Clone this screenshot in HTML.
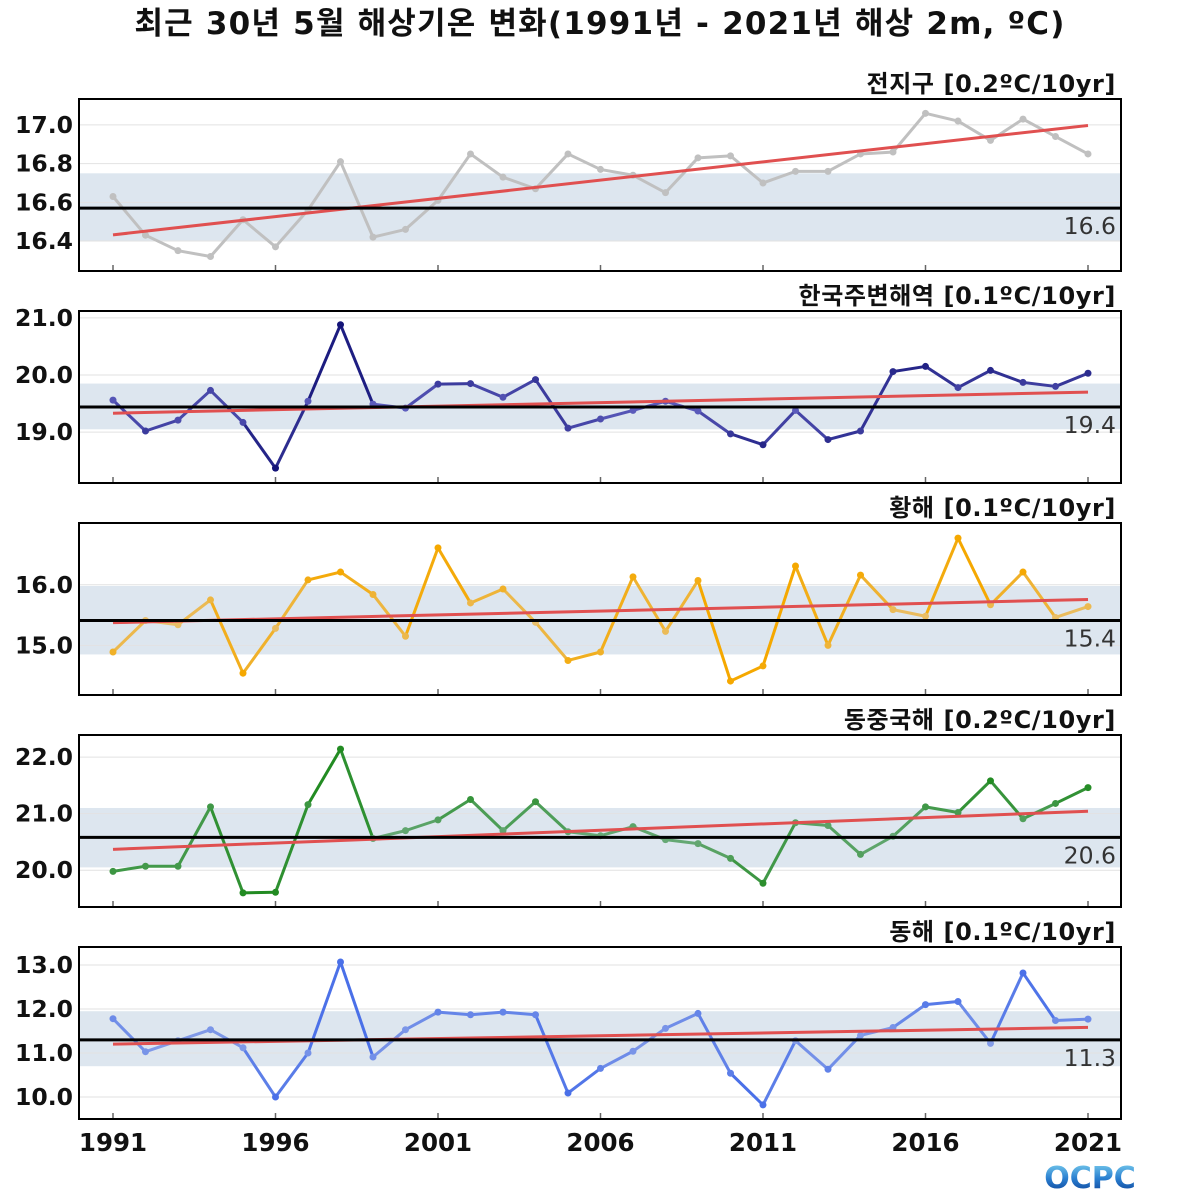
<!DOCTYPE html>
<html><head><meta charset="utf-8"><style>
html,body{margin:0;padding:0;background:#fff;}
svg{display:block;font-family:"DejaVu Sans","Noto Sans CJK KR",sans-serif;}
</style></head><body>
<svg id="chart" width="1200" height="1200" viewBox="0 0 1200 1200">
<defs><linearGradient id="lg" x1="0" y1="0" x2="0" y2="1"><stop offset="0" stop-color="#7fd3f0"/><stop offset="0.5" stop-color="#2a7fd0"/><stop offset="1" stop-color="#0a3a90"/></linearGradient></defs>
<text x="600" y="34" text-anchor="middle" font-size="31" font-weight="bold" letter-spacing="1.2" fill="#111">최근 30년 5월 해상기온 변화(1991년 - 2021년 해상 2m, ºC)</text>
<text x="1090" y="1188" text-anchor="middle" font-size="30" font-weight="bold" fill="url(#lg)">OCPC</text>
</svg>
<script>
const years = [];
for (let y = 1991; y <= 2021; y++) years.push(y);
const xTicks = [1991, 1996, 2001, 2006, 2011, 2016, 2021];
const titles = ["전지구 [0.2ºC/10yr]", "한국주변해역 [0.1ºC/10yr]", "황해 [0.1ºC/10yr]", "동중국해 [0.2ºC/10yr]", "동해 [0.1ºC/10yr]"];
const seriesGlobal = [16.63,16.43,16.35,16.32,16.51,16.37,16.56,16.81,16.42,16.46,16.61,16.85,16.73,16.67,16.85,16.77,16.74,16.65,16.83,16.84,16.70,16.76,16.76,16.85,16.86,17.06,17.02,16.92,17.03,16.94,16.85];
const seriesKorea = [19.56,19.02,19.21,19.73,19.17,18.37,19.54,20.88,19.49,19.42,19.84,19.85,19.61,19.92,19.07,19.23,19.38,19.54,19.37,18.97,18.78,19.38,18.87,19.02,20.06,20.15,19.78,20.08,19.87,19.80,20.03];
const seriesYellow = [14.89,15.41,15.34,15.75,14.54,15.28,16.08,16.21,15.84,15.15,16.61,15.70,15.93,15.38,14.75,14.89,16.13,15.23,16.07,14.41,14.66,16.31,15.00,16.16,15.59,15.48,16.77,15.67,16.21,15.46,15.64];
const seriesEastChina = [19.98,20.07,20.07,21.12,19.60,19.61,21.16,22.14,20.56,20.70,20.89,21.25,20.70,21.21,20.68,20.61,20.77,20.54,20.47,20.21,19.77,20.84,20.79,20.28,20.60,21.12,21.02,21.58,20.91,21.18,21.46];
const seriesEastSea = [11.78,11.03,11.28,11.53,11.12,10.00,11.00,13.07,10.91,11.53,11.93,11.87,11.93,11.87,10.09,10.65,11.04,11.56,11.90,10.54,9.82,11.28,10.63,11.40,11.58,12.10,12.17,11.22,12.82,11.74,11.77];
const means = [16.57, 19.44, 15.41, 20.58, 11.30];
const meanLabels = ["16.6", "19.4", "15.4", "20.6", "11.3"];
const bandLow = [16.40, 19.05, 14.85, 20.05, 10.70];
const bandHigh = [16.75, 19.85, 15.98, 21.10, 11.95];
const yTicks1 = [16.4, 16.6, 16.8, 17.0];
const yTicks2 = [19.0, 20.0, 21.0];
const yTicks3 = [15.0, 16.0];
const yTicks4 = [20.0, 21.0, 22.0];
const yTicks5 = [10.0, 11.0, 12.0, 13.0];
const yMin = [16.245, 18.11, 14.18, 19.35, 9.50];
const yMax = [17.134, 21.12, 17.02, 22.39, 13.41];

const allSeries = [seriesGlobal, seriesKorea, seriesYellow, seriesEastChina, seriesEastSea];
const allTicks = [yTicks1, yTicks2, yTicks3, yTicks4, yTicks5];
const panelTop = [99, 311, 523, 735, 947];
const panelH = 172;
const L = 79, R = 1121;
const nearCol = [[192,192,192],[96,96,192],[232,192,112],[106,170,122],[136,160,232]];
const farCol = [[192,192,192],[20,20,120],[245,168,0],[34,139,34],[74,112,232]];
const svg = document.getElementById('chart');
const NS = 'http://www.w3.org/2000/svg';
function mk(tag, attrs, parent) {
  const e = document.createElementNS(NS, tag);
  for (const k in attrs) e.setAttribute(k, attrs[k]);
  (parent || svg).appendChild(e);
  return e;
}
const xS = yr => 113 + (yr - 1991) * (1088 - 113) / 30;

for (let p = 0; p < 5; p++) {
  const top = panelTop[p], bot = top + panelH;
  const yS = v => bot - (v - yMin[p]) / (yMax[p] - yMin[p]) * panelH;
  const g = mk('g', {});
  
  
  const band = mk('rect', {x: L, y: yS(bandHigh[p]), width: R - L, height: yS(bandLow[p]) - yS(bandHigh[p]), fill: '#dde6ef'}, g);
  
  
  allTicks[p].forEach(t => {
    const gl = mk('line', {x1: L, x2: R, y1: yS(t), y2: yS(t), stroke: '#e2e2e2', 'stroke-width': 1}, g);
    
    
    const tl = mk('text', {x: 73, y: yS(t) + 8, 'text-anchor': 'end', 'font-size': 23.5, 'font-weight': 'bold', fill: '#111'}, g);
    tl.textContent = t.toFixed(1);
    
    
  });
  xTicks.forEach(yr => {
    const tk = mk('line', {x1: xS(yr), x2: xS(yr), y1: bot - 6, y2: bot, stroke: '#666', 'stroke-width': 1.5}, g);
    
    
  });
  const s = allSeries[p];
  const m = means[p];
  const maxDev = Math.max(...s.map(v => Math.abs(v - m)));
  for (let i = 0; i < s.length - 1; i++) {
    const d = Math.min(1, ((Math.abs(s[i] - m) + Math.abs(s[i + 1] - m)) / 2) / (maxDev * 0.6));
    const c = nearCol[p].map((a, k) => Math.round(a + (farCol[p][k] - a) * d));
    const seg = mk('line', {x1: xS(years[i]), y1: yS(s[i]), x2: xS(years[i + 1]), y2: yS(s[i + 1]), stroke: `rgb(${c})`, 'stroke-width': 3}, g);
    
    
  }
  s.forEach((v, i) => {
    const d = Math.min(1, Math.abs(v - m) / (maxDev * 0.6));
    const c = nearCol[p].map((a, k) => Math.round(a + (farCol[p][k] - a) * d));
    const pt = mk('circle', {cx: xS(years[i]), cy: yS(v), r: 3.5, fill: `rgb(${c})`}, g);
    
    
  });
  const n = s.length, mx = years.reduce((a, b) => a + b) / n, my = s.reduce((a, b) => a + b) / n;
  let num = 0, den = 0;
  years.forEach((yr, i) => { num += (yr - mx) * (s[i] - my); den += (yr - mx) * (yr - mx); });
  const slope = num / den, icpt = my - slope * mx;
  const tr = mk('line', {x1: xS(1991), y1: yS(icpt + slope * 1991), x2: xS(2021), y2: yS(icpt + slope * 2021), stroke: '#e05050', 'stroke-width': 3}, g);
  
  
  const ml = mk('line', {x1: L, x2: R, y1: yS(m), y2: yS(m), stroke: '#000', 'stroke-width': 3}, g);
  
  
  const mt = mk('text', {x: 1116, y: yS(m) + 26, 'text-anchor': 'end', 'font-size': 23.5, fill: '#333'}, g);
  mt.textContent = meanLabels[p];
  
  
  const fr = mk('rect', {x: L, y: top, width: R - L, height: panelH, fill: 'none', stroke: '#000', 'stroke-width': 2}, g);
  
  
  const ti = mk('text', {x: 1116, y: top - 7, 'text-anchor': 'end', 'font-size': 24, 'font-weight': 'bold', 'letter-spacing': 0.6, fill: '#111'}, g);
  ti.textContent = titles[p];
  
  
}
xTicks.forEach(yr => {
  const t = mk('text', {x: xS(yr), y: 1151, 'text-anchor': 'middle', 'font-size': 24.5, 'font-weight': 'bold', fill: '#111'});
  t.textContent = yr;
  
  
});
</script>
</body></html>
